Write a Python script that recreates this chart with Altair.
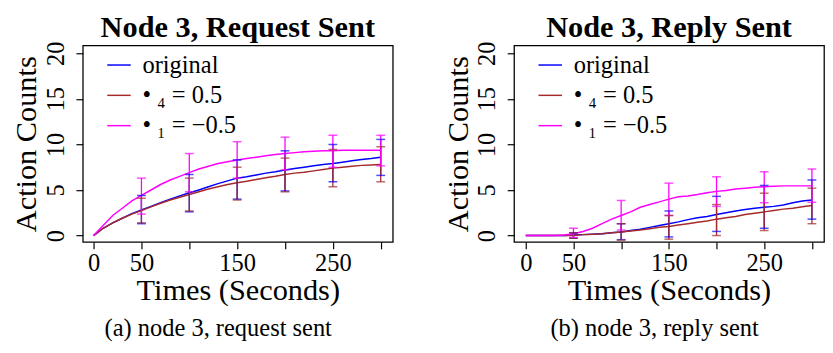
import altair as alt
import pandas as pd

FONT = "Liberation Serif"

# ---------------- data ----------------
series = ["original", "• ₄ = 0.5", "• ₁ = −0.5"]
colors = ["#0000ff", "#a52a2a", "#ff00ff"]

panel_titles = ["Node 3, Request Sent", "Node 3, Reply Sent"]
captions = ["(a) node 3, request sent", "(b) node 3, reply sent"]
x_title = "Times (Seconds)"
y_title = "Action Counts"

x_ticks = [0, 50, 100, 150, 200, 250, 300]
x_tick_labels = ["0", "50", "", "150", "", "250", ""]
y_ticks = [0, 5, 10, 15, 20]

t_line = [0, 10, 20, 30, 40, 50, 60, 70, 80, 90, 100, 110, 120, 130, 140, 150,
          160, 170, 180, 190, 200, 210, 220, 230, 240, 250, 260, 270, 280, 290, 300]

# panel (a): request sent
req_original = [0, 0.8, 1.4, 1.9, 2.4, 2.8, 3.2, 3.6, 4.0, 4.35, 4.7, 5.0, 5.35, 5.7, 6.0, 6.3,
                6.45, 6.65, 6.85, 7.0, 7.2, 7.35, 7.5, 7.65, 7.8, 7.9, 8.05, 8.2, 8.35, 8.45, 8.6]
req_phi4 = [0, 0.8, 1.4, 1.9, 2.35, 2.75, 3.15, 3.55, 3.9, 4.2, 4.5, 4.8, 5.1, 5.35, 5.6, 5.8,
            5.95, 6.15, 6.35, 6.5, 6.7, 6.85, 6.95, 7.1, 7.25, 7.4, 7.5, 7.6, 7.7, 7.75, 7.8]
req_phi1 = [0, 1.1, 2.2, 3.0, 3.8, 4.4, 5.0, 5.6, 6.1, 6.5, 6.9, 7.3, 7.6, 7.9, 8.1, 8.3,
            8.45, 8.6, 8.75, 8.9, 9.0, 9.1, 9.2, 9.25, 9.3, 9.3, 9.35, 9.35, 9.35, 9.35, 9.35]

# panel (b): reply sent
rep_original = [0, 0, 0, 0, 0, 0.05, 0.1, 0.15, 0.2, 0.3, 0.4, 0.55, 0.7, 0.9, 1.1, 1.3,
                1.5, 1.75, 1.95, 2.1, 2.3, 2.5, 2.7, 2.85, 3.0, 3.1, 3.2, 3.35, 3.6, 3.8, 3.9]
rep_phi4 = [0, 0, 0, 0, 0, 0, 0.1, 0.15, 0.2, 0.3, 0.4, 0.5, 0.6, 0.75, 0.9, 1.0,
            1.15, 1.3, 1.45, 1.6, 1.8, 1.95, 2.1, 2.3, 2.45, 2.6, 2.75, 2.9, 3.0, 3.15, 3.3]
rep_phi1 = [0, 0, 0, 0, 0.05, 0.2, 0.45, 0.8, 1.3, 1.8, 2.2, 2.6, 3.1, 3.4, 3.7, 4.0,
            4.25, 4.35, 4.5, 4.7, 4.85, 4.95, 5.1, 5.2, 5.3, 5.35, 5.4, 5.45, 5.45, 5.45, 5.45]

t_err = [50, 100, 150, 200, 250, 300]
req_original_lo = [1.3, 2.6, 4.0, 4.9, 5.9, 6.6]
req_original_hi = [4.4, 6.7, 8.3, 9.3, 10.0, 10.55]
req_phi4_lo = [1.4, 2.7, 3.9, 4.8, 5.35, 5.9]
req_phi4_hi = [4.1, 6.3, 7.5, 8.5, 9.45, 9.75]
req_phi1_lo = [2.35, 4.8, 6.3, 7.2, 7.5, 7.65]
req_phi1_hi = [6.3, 9.0, 10.3, 10.8, 11.0, 11.0]

rep_original_lo = [-0.3, -0.45, -0.15, 0.45, 0.8, 1.8]
rep_original_hi = [0.3, 1.3, 2.7, 4.3, 5.5, 6.1]
rep_phi4_lo = [-0.3, -0.5, -0.4, 0.0, 0.55, 1.3]
rep_phi4_hi = [0.3, 1.3, 2.2, 3.4, 4.65, 5.2]
rep_phi1_lo = [-0.2, 0.6, 2.2, 3.2, 3.6, 3.65]
rep_phi1_hi = [0.8, 3.85, 5.75, 6.45, 7.0, 7.3]


def lines_frame(vals):
    rows = []
    for s, v in zip(series, vals):
        for t, y in zip(t_line, v):
            rows.append({"series": s, "t": t, "v": y})
    return pd.DataFrame(rows)


def err_frame(los, his):
    rows = []
    for s, lo, hi in zip(series, los, his):
        for t, a, b in zip(t_err, lo, hi):
            rows.append({"series": s, "t": t, "lo": a, "hi": b})
    return pd.DataFrame(rows)


label_expr = "[" + ",".join("'%s'" % l for l in x_tick_labels) + "][indexof([" + \
    ",".join(str(t) for t in x_ticks) + "], datum.value)]"

W, H = 317, 201
Y_DOMAIN = [-0.71, 20.86]


def panel(title, caption, lines_df, err_df, x_domain, cap_x):
    xs = alt.Scale(domain=x_domain, nice=False, zero=False)
    ys = alt.Scale(domain=Y_DOMAIN, nice=False, zero=False)
    x_axis = alt.Axis(values=x_ticks, labelExpr=label_expr, title=x_title,
                      titleY=59, titleBaseline="alphabetic",
                      labelBaseline="alphabetic", labelPadding=22,
                      labelOverlap=False, labelFlush=False)
    y_axis = alt.Axis(values=y_ticks, labelAngle=270, labelAlign="center",
                      labelBaseline="alphabetic", labelPadding=13,
                      title=y_title, titleX=-48, titleY=H / 2, titleAngle=270,
                      titleBaseline="alphabetic", titleAlign="center")
    color = alt.Color("series:N", scale=alt.Scale(domain=series, range=colors),
                      legend=alt.Legend(orient="none", legendX=24, legendY=7,
                                        title=None, symbolType="stroke",
                                        symbolSize=576, symbolStrokeWidth=1.5,
                                        labelFont=FONT, labelFontSize=25,
                                        labelColor="black", labelOffset=11,
                                        rowPadding=5, padding=0,
                                        labelLimit=400))
    color_nol = alt.Color("series:N", scale=alt.Scale(domain=series, range=colors),
                          legend=None)
    order = alt.Order("t:Q")

    lines = alt.Chart(lines_df).mark_line(strokeWidth=1.5).encode(
        x=alt.X("t:Q", scale=xs, axis=x_axis),
        y=alt.Y("v:Q", scale=ys, axis=y_axis),
        color=color, order=order)
    rules = alt.Chart(err_df).mark_rule(strokeWidth=1.3).encode(
        x="t:Q", y="lo:Q", y2="hi:Q", color=color_nol)
    ticks_lo = alt.Chart(err_df).mark_tick(orient="horizontal", size=9, thickness=1.5).encode(
        x="t:Q", y="lo:Q", color=color_nol)
    ticks_hi = alt.Chart(err_df).mark_tick(orient="horizontal", size=9, thickness=1.5).encode(
        x="t:Q", y="hi:Q", color=color_nol)
    cap = alt.Chart(pd.DataFrame({"c": [caption]})).mark_text(
        font=FONT, fontSize=25, align="center", baseline="alphabetic",
        color="black").encode(text="c:N", x=alt.value(cap_x), y=alt.value(297))

    return alt.layer(lines, rules, ticks_lo, ticks_hi, cap).properties(
        width=W, height=H,
        title=alt.TitleParams(panel_titles[title],
                              font=FONT, fontSize=31, fontWeight="bold",
                              color="black", anchor="middle", offset=-2.5))


p1 = panel(0, captions[0],
           lines_frame([req_original, req_phi4, req_phi1]),
           err_frame([req_original_lo, req_phi4_lo, req_phi1_lo],
                     [req_original_hi, req_phi4_hi, req_phi1_hi]),
           [-11.25, 312.6], 138.5)
p2 = panel(1, captions[1],
           lines_frame([rep_original, rep_phi4, rep_phi1]),
           err_frame([rep_original_lo, rep_phi4_lo, rep_phi1_lo],
                     [rep_original_hi, rep_phi4_hi, rep_phi1_hi]),
           [-12.3, 312.7], 143.8)

chart = alt.hconcat(p1, p2, spacing=124, bounds="flush").resolve_scale(
    x="independent", y="independent", color="independent"
).configure_view(
    stroke="black", strokeWidth=1.3
).configure_axis(
    labelFont=FONT, labelFontSize=25, labelColor="black",
    titleFont=FONT, titleFontSize=31, titleFontWeight="normal", titleColor="black",
    tickColor="black", tickSize=7, tickWidth=1.2, domain=False, grid=False
).properties(
    padding={"left": 2.5, "top": -0.5, "right": 0, "bottom": 0}
)

chart.save("out.html", embed_options={"renderer": "svg", "actions": False})
